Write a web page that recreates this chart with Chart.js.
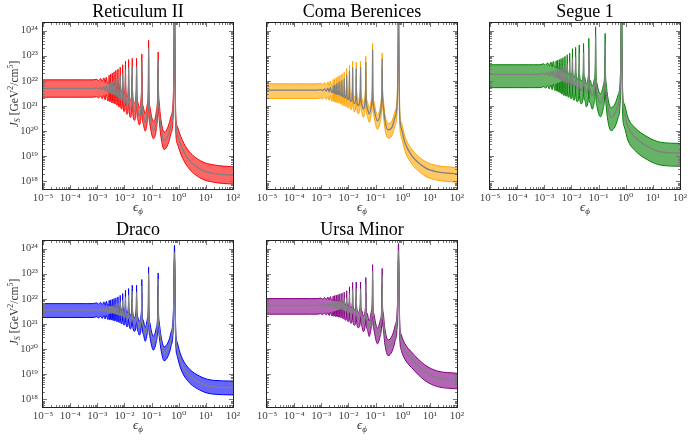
<!DOCTYPE html>
<html>
<head>
<meta charset="utf-8">
<script src="https://cdn.jsdelivr.net/npm/chart.js@4.4.0/dist/chart.umd.min.js"></script>
<style>
  html, body { margin: 0; padding: 0; background: #fff; }
  #wrap { position: relative; width: 692px; height: 442px; overflow: hidden; }
  #wrap canvas { position: absolute; }
</style>
</head>
<body>
<div id="wrap"></div>
<script>
// epsilon_phi sample points (shared by all panels): plateau, dense resonances,
// then each resonance as shoulder / peak / shoulder / trough
const eps = [1e-5, 1e-4, 4e-4, 7e-4,
  0.00096, 0.00113, 0.00132, 0.00152, 0.00175, 0.00195, 0.00216, 0.00243,
  0.00269, 0.00273, 0.00277, 0.00291,
  0.00307, 0.00311, 0.00315, 0.00333,
  0.00352, 0.00357, 0.00362, 0.00384,
  0.00408, 0.00414, 0.0042, 0.00448,
  0.00478, 0.00485, 0.00492, 0.0053,
  0.0057, 0.00578, 0.00586, 0.00636,
  0.0069, 0.00699, 0.00708, 0.0078,
  0.0085, 0.00863, 0.00876, 0.0097,
  0.01075, 0.01092, 0.0111, 0.0125,
  0.01405, 0.01427, 0.0145, 0.0166,
  0.0191, 0.0194, 0.0197, 0.0233,
  0.0274, 0.028, 0.0286, 0.0315, 0.035,
  0.0428, 0.0437, 0.0446, 0.049, 0.0585,
  0.07, 0.0762, 0.0777, 0.0792, 0.086, 0.117,
  0.15, 0.171, 0.175, 0.179, 0.19, 0.22, 0.29,
  0.4, 0.52, 0.64, 0.699, 0.77, 0.89, 1.2, 2.1, 6.6, 19, 100];

// central curves, log10(J_S / GeV^2 cm^-5)
const reticulumMid = [21.70, 21.70, 21.70, 21.70,
  21.72, 21.67, 21.75, 21.64, 21.78, 21.60, 21.81, 21.55,
  21.65, 21.88, 21.65, 21.52,
  21.65, 21.93, 21.64, 21.49,
  21.65, 21.97, 21.63, 21.46,
  21.65, 22.02, 21.63, 21.43,
  21.65, 22.08, 21.62, 21.38,
  21.63, 22.13, 21.60, 21.31,
  21.60, 22.20, 21.56, 21.23,
  21.58, 22.30, 21.54, 21.13,
  21.58, 22.44, 21.52, 21.02,
  21.52, 22.51, 21.46, 20.90,
  21.46, 22.56, 21.40, 20.78,
  21.36, 22.56, 21.30, 20.80, 20.60,
  21.30, 22.73, 21.22, 20.65, 20.35,
  20.75, 21.50, 23.28, 21.40, 20.65, 20.05,
  20.45, 21.55, 22.81, 21.45, 20.85, 20.15, 19.62,
  19.82, 20.25, 21.20, 25.0, 20.45, 19.85, 19.44, 18.94, 18.47, 18.32, 18.24];
const comaMid = [21.63, 21.63, 21.63, 21.63,
  21.65, 21.61, 21.68, 21.59, 21.71, 21.56, 21.74, 21.53,
  21.61, 21.80, 21.60, 21.50,
  21.61, 21.84, 21.59, 21.48,
  21.61, 21.88, 21.59, 21.46,
  21.61, 21.93, 21.59, 21.44,
  21.61, 21.98, 21.58, 21.40,
  21.60, 22.03, 21.56, 21.35,
  21.58, 22.10, 21.54, 21.30,
  21.58, 22.24, 21.53, 21.25,
  21.58, 22.37, 21.52, 21.18,
  21.58, 22.53, 21.50, 21.10,
  21.54, 22.49, 21.48, 21.02,
  21.52, 22.53, 21.45, 21.05, 20.88,
  21.50, 22.73, 21.40, 20.95, 20.68,
  21.00, 21.70, 23.23, 21.60, 20.95, 20.41,
  20.75, 21.70, 22.86, 21.60, 21.10, 20.45, 20.05,
  20.15, 20.55, 21.40, 25.0, 20.70, 20.10, 19.55, 19.05, 18.55, 18.38, 18.30];
const segueMid = [22.26, 22.26, 22.26, 22.26,
  22.30, 22.24, 22.34, 22.21, 22.37, 22.18, 22.40, 22.15,
  22.23, 22.42, 22.22, 22.12,
  22.22, 22.44, 22.20, 22.09,
  22.21, 22.47, 22.19, 22.05,
  22.19, 22.50, 22.17, 22.00,
  22.17, 22.54, 22.14, 21.95,
  22.15, 22.59, 22.12, 21.92,
  22.14, 22.66, 22.10, 21.88,
  22.12, 22.72, 22.07, 21.82,
  22.12, 22.90, 22.05, 21.76,
  22.08, 22.95, 22.00, 21.70,
  22.05, 23.05, 21.95, 21.62,
  22.00, 23.11, 21.90, 21.75, 21.50,
  21.95, 23.31, 21.85, 21.65, 21.40,
  21.70, 22.30, 23.77, 22.20, 21.55, 21.10,
  21.45, 22.25, 23.51, 22.10, 21.55, 20.95, 20.55,
  20.70, 21.05, 21.90, 25.0, 21.20, 20.70, 20.17, 19.78, 19.38, 19.18, 19.13];
const dracoMid = [21.55, 21.55, 21.55, 21.55,
  21.58, 21.53, 21.60, 21.51, 21.62, 21.49, 21.64, 21.47,
  21.54, 21.68, 21.53, 21.46,
  21.54, 21.70, 21.53, 21.45,
  21.54, 21.72, 21.52, 21.43,
  21.54, 21.75, 21.52, 21.41,
  21.53, 21.78, 21.51, 21.38,
  21.53, 21.82, 21.50, 21.35,
  21.52, 21.88, 21.49, 21.30,
  21.51, 21.95, 21.47, 21.25,
  21.51, 22.08, 21.46, 21.18,
  21.48, 22.15, 21.42, 21.10,
  21.46, 22.28, 21.38, 21.00,
  21.40, 22.28, 21.32, 21.00, 20.85,
  21.34, 22.51, 21.26, 20.90, 20.60,
  20.95, 21.55, 23.01, 21.45, 20.80, 20.25,
  20.60, 21.45, 22.77, 21.35, 20.85, 20.30, 19.83,
  20.00, 20.40, 21.30, 23.87, 20.60, 20.00, 19.50, 19.04, 18.64, 18.50, 18.47];
const ursaMid = [21.74, 21.74, 21.74, 21.74,
  21.76, 21.72, 21.78, 21.71, 21.80, 21.69, 21.82, 21.67,
  21.73, 21.84, 21.72, 21.66,
  21.73, 21.86, 21.72, 21.65,
  21.73, 21.88, 21.71, 21.64,
  21.72, 21.90, 21.70, 21.62,
  21.72, 21.93, 21.69, 21.60,
  21.71, 21.96, 21.68, 21.56,
  21.69, 22.00, 21.66, 21.50,
  21.67, 22.05, 21.63, 21.45,
  21.65, 22.21, 21.60, 21.38,
  21.62, 22.38, 21.57, 21.30,
  21.58, 22.40, 21.52, 21.20,
  21.52, 22.40, 21.45, 21.25, 21.05,
  21.45, 22.58, 21.38, 21.15, 20.85,
  21.25, 21.80, 23.09, 21.70, 21.15, 20.56,
  20.90, 21.65, 22.94, 21.55, 21.20, 20.55, 20.09,
  20.25, 20.65, 21.50, 23.93, 20.90, 20.30, 19.95, 19.62, 19.10, 18.86, 18.77];

const galaxies = ["Reticulum II", "Coma Berenices", "Segue 1", "Draco", "Ursa Minor"];
const midCurves = [reticulumMid, comaMid, segueMid, dracoMid, ursaMid];
// band half widths (dex above / below the central curve)
const bandAbove = [0.34, 0.25, 0.38, 0.26, 0.27];
const bandBelow = [0.35, 0.33, 0.53, 0.29, 0.35];

const xTicks = [1e-5, 1e-4, 1e-3, 1e-2, 1e-1, 1e0, 1e1, 1e2];
const yTicks = [1e18, 1e19, 1e20, 1e21, 1e22, 1e23, 1e24];

const lineColors = ["#ff0000", "#ffa500", "#008000", "#0000ff", "#800080"];
const fillColors = ["rgba(255,0,0,0.6)", "rgba(255,165,0,0.6)", "rgba(0,128,0,0.6)",
  "rgba(0,0,255,0.6)", "rgba(128,0,128,0.6)"];
const panelLeft = [0, 224, 447, 0, 224];
const panelTop = [0, 0, 0, 218, 218];

const SERIF = '"Liberation Serif", "DejaVu Serif", serif';
const SUP = { "-": "\u207B", "0": "\u2070", "1": "\u00B9", "2": "\u00B2", "3": "\u00B3",
  "4": "\u2074", "5": "\u2075", "6": "\u2076", "7": "\u2077", "8": "\u2078", "9": "\u2079" };

function powLabel(v) {
    const e = Math.round(Math.log10(v));
    return "10" + String(e).split("").map(c => SUP[c]).join("");
}

// draws a row of text pieces [text, size, italic, dy] centred on x
function drawParts(ctx, parts, x, y) {
    const fontOf = p => (p[2] ? "italic " : "") + p[1] + "px " + SERIF;
    let total = 0;
    parts.forEach(p => { ctx.font = fontOf(p); total += ctx.measureText(p[0]).width; });
    let cx = x - total / 2;
    parts.forEach(p => {
        ctx.font = fontOf(p);
        ctx.fillText(p[0], cx, y + p[3]);
        cx += ctx.measureText(p[0]).width;
    });
}

// frame with inward major/minor ticks on all four sides, plus axis titles
const frameTicks = {
    id: "frameTicks",
    afterDraw(chart) {
        const { ctx, chartArea: a, scales: { x, y } } = chart;
        ctx.save();
        ctx.strokeStyle = "#777";
        ctx.lineWidth = 1;
        const seg = (x1, y1, x2, y2) => { ctx.beginPath(); ctx.moveTo(x1, y1); ctx.lineTo(x2, y2); ctx.stroke(); };
        for (let d = -5; d <= 2; d++) {
            for (let m = 1; m <= 9; m++) {
                const v = m * Math.pow(10, d);
                if (v > 100) break;
                const px = Math.round(x.getPixelForValue(v)) + 0.5;
                const len = m === 1 ? 4 : 2;
                seg(px, a.bottom, px, a.bottom - len);
                seg(px, a.top, px, a.top + len);
            }
        }
        for (let d = 17; d <= 24; d++) {
            for (let m = 1; m <= 9; m++) {
                const v = m * Math.pow(10, d);
                if (v < 5e17 || v > 2e24) continue;
                const py = Math.round(y.getPixelForValue(v)) + 0.5;
                const len = m === 1 ? 4 : 2;
                seg(a.left, py, a.left + len, py);
                seg(a.right, py, a.right - len, py);
            }
        }
        ctx.strokeStyle = "#222";
        ctx.strokeRect(Math.round(a.left) - 0.5, Math.round(a.top) - 0.5,
            Math.round(a.right - a.left) + 1, Math.round(a.bottom - a.top) + 1);

        ctx.fillStyle = "#333";
        ctx.textBaseline = "alphabetic";
        const cxMid = (a.left + a.right) / 2;
        drawParts(ctx, [["\u03F5", 13, true, 0], ["\u03D5", 9, true, 3]], cxMid, a.bottom + 22);
        if (chart.options.plugins.frameTicks.showY) {
            ctx.translate(13, (a.top + a.bottom) / 2 - 12);
            ctx.rotate(-Math.PI / 2);
            drawParts(ctx, [["J", 11.5, true, 0], ["S", 8, true, 2.5], [" [GeV", 11.5, false, 0],
                ["2", 8, false, -4.5], ["/cm", 11.5, false, 0], ["5", 8, false, -4.5], ["]", 11.5, false, 0]], 0, 4.5);
        }
        ctx.restore();
    }
};

const wrap = document.getElementById("wrap");

galaxies.forEach((name, i) => {
    const canvas = document.createElement("canvas");
    canvas.width = 243;
    canvas.height = 224;
    canvas.style.left = panelLeft[i] + "px";
    canvas.style.top = panelTop[i] + "px";
    canvas.style.width = "243px";
    canvas.style.height = "224px";
    wrap.appendChild(canvas);

    const mid = midCurves[i];
    const showY = (i === 0 || i === 3);
    const central = mid.map((v, k) => ({ x: eps[k], y: Math.pow(10, v) }));
    const upper = mid.map((v, k) => ({ x: eps[k], y: Math.pow(10, v + bandAbove[i]) }));
    const lower = mid.map((v, k) => ({ x: eps[k], y: Math.pow(10, v - bandBelow[i]) }));

    const lineStyle = { pointRadius: 0, borderJoinStyle: "round", cubicInterpolationMode: "monotone" };

    new Chart(canvas.getContext("2d"), {
        type: "line",
        data: {
            datasets: [
                { ...lineStyle, data: central, borderColor: "#808080", borderWidth: 1.3,
                  fill: false, order: 0 },
                { ...lineStyle, data: upper, borderColor: lineColors[i], borderWidth: 1,
                  backgroundColor: fillColors[i], fill: 2, order: 1 },
                { ...lineStyle, data: lower, borderColor: lineColors[i], borderWidth: 1,
                  fill: false, order: 2 },
            ],
        },
        options: {
            responsive: false,
            animation: false,
            devicePixelRatio: 1,
            layout: { padding: { left: 0, right: 10, top: 0, bottom: 0 } },
            plugins: {
                legend: { display: false },
                tooltip: { enabled: false },
                title: {
                    display: true,
                    text: name,
                    fullSize: false,
                    color: "#000",
                    font: { family: SERIF, size: 18, weight: "normal" },
                    padding: { top: 1.4, bottom: 0 },
                },
                frameTicks: { showY: showY },
            },
            scales: {
                x: {
                    type: "logarithmic",
                    min: 1e-5,
                    max: 1e2,
                    grid: { display: false, drawTicks: false },
                    border: { display: false },
                    afterBuildTicks: s => { s.ticks = xTicks.map(v => ({ value: v })); },
                    afterFit: s => { s.height = 35; s.paddingLeft = 0; s.paddingRight = 0; },
                    ticks: {
                        callback: v => powLabel(v),
                        autoSkip: false,
                        maxRotation: 0,
                        padding: 3,
                        color: "#444",
                        font: { family: SERIF, size: 11 },
                    },
                },
                y: {
                    type: "logarithmic",
                    min: 5e17,
                    max: 2e24,
                    grid: { display: false, drawTicks: false },
                    border: { display: false },
                    afterBuildTicks: s => { s.ticks = yTicks.map(v => ({ value: v })); },
                    afterFit: s => { s.width = 43; s.paddingTop = 0; s.paddingBottom = 0; },
                    ticks: {
                        display: showY,
                        callback: v => powLabel(v),
                        padding: 5,
                        color: "#444",
                        font: { family: SERIF, size: 10.5 },
                    },
                },
            },
        },
        plugins: [frameTicks],
    });
});
</script>
</body>
</html>
